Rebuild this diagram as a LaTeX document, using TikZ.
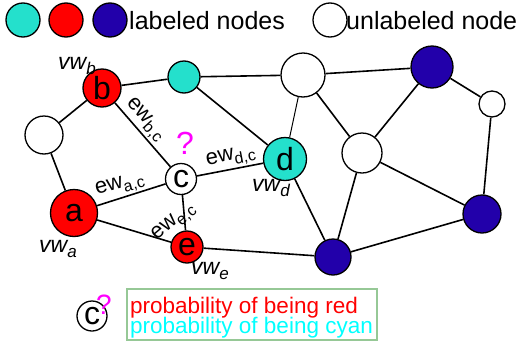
\documentclass[tikz,border=0pt]{standalone}
\usepackage{fontspec}
\setmainfont{Liberation Sans}
\definecolor{cyanN}{RGB}{36,224,204}
\definecolor{redN}{RGB}{255,0,0}
\definecolor{blueN}{RGB}{34,0,170}
\definecolor{magQ}{RGB}{255,0,255}
\definecolor{cyanT}{RGB}{0,255,255}
\definecolor{boxG}{RGB}{150,200,150}
\newcommand{\ewlbl}[2]{\fontsize{22}{22}\selectfont #1\raisebox{-0.22em}{\fontsize{16}{16}\selectfont #2}}
\newcommand{\vwlbl}[1]{\fontsize{23}{23}\selectfont\itshape vw\raisebox{-0.25em}{\fontsize{17}{17}\selectfont #1}}
\begin{document}
\begin{tikzpicture}[x=1pt,y=-1pt,
  nd/.style={circle,draw=black,line width=1.3pt,inner sep=0pt,font=\fontsize{32}{32}\selectfont},
  edge/.style={line width=1.6pt},
  thinedge/.style={line width=1pt},
  lab/.style={inner sep=0pt},
  legtxt/.style={inner sep=0pt,anchor=west,font=\fontsize{25}{25}\selectfont}]
\useasboundingbox (0,0) rectangle (524,343);
% legend
\node[nd,fill=cyanN,minimum size=34pt] (L1) at (23,20) {};
\node[nd,fill=redN,minimum size=34pt] (L2) at (66,20) {};
\node[nd,fill=blueN,minimum size=34pt] (L3) at (110,20) {};
\node[legtxt] (Lt1) at (129,21) {labeled nodes};
\node[nd,fill=white,minimum size=34pt] (L4) at (330,20) {};
\node[legtxt] (Lt2) at (346,21) {unlabeled node};
% graph nodes
\node[nd,fill=redN,minimum size=38pt] (b) at (102,88) {b};
\node[nd,fill=cyanN,minimum size=32pt] (t1) at (184,77) {};
\node[nd,fill=white,minimum size=44pt] (t2) at (303,75) {};
\node[nd,fill=blueN,minimum size=42pt] (t3) at (432,67) {};
\node[nd,fill=white,minimum size=26pt] (t4) at (492,104) {};
\node[nd,fill=white,minimum size=38pt] (wl) at (44,135) {};
\node[nd,fill=redN,minimum size=47pt] (a) at (74,213) {a};
\node[nd,fill=white,minimum size=31pt] (c) at (181,179) {c};
\node[nd,fill=redN,minimum size=32pt] (e) at (187,247) {e};
\node[nd,fill=cyanN,minimum size=43pt] (d) at (285,159) {d};
\node[nd,fill=white,minimum size=40pt] (m) at (362,153) {};
\node[nd,fill=blueN,minimum size=36pt] (bb) at (333,257) {};
\node[nd,fill=blueN,minimum size=38pt] (br) at (482,214) {};
% edges
\draw[edge] (b) -- (wl);
\draw[edge] (b) -- (t1);
\draw[edge] (b) -- (c);
\draw[edge] (t1) -- (t2);
\draw[edge] (t1) -- (d);
\draw[edge] (t2) -- (t3);
\draw[thinedge] (t2) -- (d);
\draw[edge] (t2) -- (m);
\draw[edge] (t3) -- (t4);
\draw[edge] (t3) -- (m);
\draw[edge] (t4) -- (br);
\draw[edge] (m) -- (br);
\draw[edge] (m) -- (bb);
\draw[edge] (d) -- (bb);
\draw[edge] (d) -- (c);
\draw[edge] (wl) -- (a);
\draw[edge] (a) -- (c);
\draw[edge] (a) -- (e);
\draw[edge] (c) -- (e);
\draw[edge] (e) -- (bb);
\draw[edge] (bb) -- (br);
% labels
\node[lab] (vb) at (77,66) {\vwlbl{b}};
\node[lab] (va) at (58,249) {\vwlbl{a}};
\node[lab] (ve) at (210,271) {\vwlbl{e}};
\node[lab] (vd) at (271,188) {\vwlbl{d}};
\node[lab,rotate=15] (eac) at (120,186) {\ewlbl{ew}{a,c}};
\node[lab,rotate=-48] (ebc) at (145,120) {\ewlbl{ew}{b,c}};
\node[lab,rotate=11] (edc) at (231,158) {\ewlbl{ew}{d,c}};
\node[lab,rotate=40] (eec) at (174,223) {\ewlbl{ew}{e,c}};
\node[lab,text=magQ,font=\fontsize{32}{32}\selectfont] (q1) at (185,143) {?};
% bottom legend
\node[nd,fill=white,minimum size=30pt] (c2) at (92,316) {c};
\node[lab,text=magQ,font=\fontsize{28}{28}\selectfont] (q2) at (104,305) {?};
\draw[boxG,line width=1.5pt] (127,289) rectangle (377,340);
\node[inner sep=0pt,anchor=base west,text=redN,font=\fontsize{22.5}{22.5}\selectfont] (pr) at (130,313) {probability of being red};
\node[inner sep=0pt,anchor=base west,text=cyanT,font=\fontsize{22.5}{22.5}\selectfont] (pc) at (130,333) {probability of being cyan};
\end{tikzpicture}
\end{document}
